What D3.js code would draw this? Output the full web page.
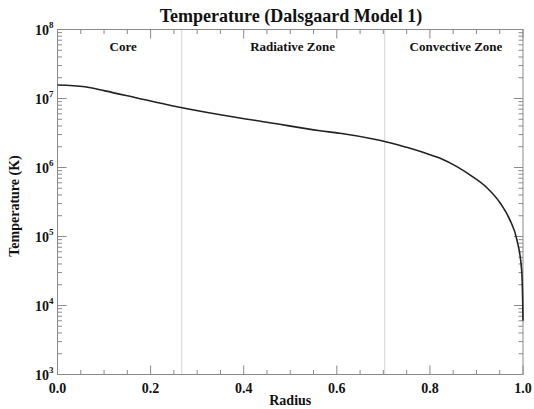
<!DOCTYPE html>
<html>
<head>
<meta charset="utf-8">
<script src="https://cdn.jsdelivr.net/npm/d3@7"></script>
<style>
  body { margin: 0; background: #fff; }
</style>
</head>
<body>
<svg width="534" height="409"></svg>
<script>
// data
var radius = [0, 0.059, 0.102, 0.173, 0.246, 0.353, 0.456, 0.564, 0.607, 0.678, 0.714,
              0.750, 0.785, 0.822, 0.858, 0.886, 0.923, 0.951, 0.972, 0.987, 0.997, 0.9993, 1.0];
var temperature = [1.57e7, 1.48e7, 1.29e7, 1.01e7, 7.87e6, 5.77e6, 4.46e6, 3.41e6, 3.13e6, 2.59e6, 2.29e6,
                   1.96e6, 1.66e6, 1.36e6, 1.03e6, 7.8e5, 5.05e5, 3.06e5, 1.73e5, 8.9e4, 3.3e4, 1.2e4, 6.0e3];
var zoneBounds = [0.267, 0.703];
var zoneNames = ["Core", "Radiative Zone", "Convective Zone"];
var zoneLabelX = [0.141, 0.505, 0.856];
var xTicks = [0, 0.2, 0.4, 0.6, 0.8, 1.0];
var yExps = [3, 4, 5, 6, 7, 8];

var svg = d3.select("svg"),
    margin = {top: 29.5, right: 11, bottom: 34.5, left: 57.5},
    width = +svg.attr("width") - margin.left - margin.right,
    height = +svg.attr("height") - margin.top - margin.bottom;

svg.attr("font-family", "'Liberation Serif', 'Times New Roman', Times, serif")
   .attr("font-weight", "bold")
   .attr("fill", "#111");

var x = d3.scaleLinear().domain([0, 1]).range([0, width]);
var y = d3.scaleLog().domain([1e3, 1e8]).range([height, 0]);

var g = svg.append("g").attr("transform", "translate(" + margin.left + "," + margin.top + ")");

var axisColor = "#8a8a8a";

// zone boundaries
g.selectAll(".zone")
    .data(zoneBounds)
    .enter().append("line")
    .attr("x1", function(d) { return x(d); })
    .attr("x2", function(d) { return x(d); })
    .attr("y1", 0).attr("y2", height)
    .attr("stroke", "#d4d4d4").attr("stroke-width", 1);

// frame
g.append("rect")
    .attr("width", width).attr("height", height)
    .attr("fill", "none").attr("stroke", axisColor).attr("stroke-width", 1);

// x ticks (major + minor), bottom and top, pointing inward
var xMinor = d3.range(0, 1.0001, 0.05);
xMinor.forEach(function(v) {
  var major = xTicks.some(function(t) { return Math.abs(t - v) < 1e-6; });
  var len = major ? 9 : 4.5;
  g.append("line").attr("x1", x(v)).attr("x2", x(v)).attr("y1", height).attr("y2", height - len)
      .attr("stroke", axisColor);
  g.append("line").attr("x1", x(v)).attr("x2", x(v)).attr("y1", 0).attr("y2", len)
      .attr("stroke", axisColor);
});

g.selectAll(".xlab")
    .data(xTicks)
    .enter().append("text")
    .attr("x", function(d) { return x(d); })
    .attr("y", height + 18)
    .attr("text-anchor", "middle")
    .style("font-size", "14px")
    .text(function(d) { return d3.format(".1f")(d); });

// y ticks: decades and minor 2..9, left and right
yExps.forEach(function(e, i) {
  var vals = [Math.pow(10, e)];
  if (i < yExps.length - 1) {
    for (var k = 2; k < 10; k++) vals.push(k * Math.pow(10, e));
  }
  vals.forEach(function(v, j) {
    var len = j === 0 ? 9 : 4.5;
    g.append("line").attr("x1", 0).attr("x2", len).attr("y1", y(v)).attr("y2", y(v))
        .attr("stroke", axisColor);
    g.append("line").attr("x1", width).attr("x2", width - len).attr("y1", y(v)).attr("y2", y(v))
        .attr("stroke", axisColor);
  });
});

var ylab = g.selectAll(".ylab")
    .data(yExps)
    .enter().append("text")
    .attr("x", -4)
    .attr("y", function(d) { return y(Math.pow(10, d)) + 5; })
    .attr("text-anchor", "end")
    .style("font-size", "14px");
ylab.append("tspan").text("10");
ylab.append("tspan")
    .attr("dy", -7)
    .style("font-size", "9px")
    .text(function(d) { return d; });

// curve
var line = d3.line()
    .x(function(d) { return x(d[0]); })
    .y(function(d) { return y(d[1]); })
    .curve(d3.curveMonotoneX);

g.append("path")
    .datum(d3.zip(radius, temperature))
    .attr("fill", "none")
    .attr("stroke", "#222")
    .attr("stroke-width", 1.6)
    .attr("d", line);

// zone labels
g.selectAll(".zlab")
    .data(zoneNames)
    .enter().append("text")
    .attr("x", function(d, i) { return x(zoneLabelX[i]); })
    .attr("y", 21)
    .attr("text-anchor", "middle")
    .style("font-size", "13px")
    .text(function(d) { return d; });

// title and axis labels
svg.append("text")
    .attr("x", 291)
    .attr("y", 22)
    .attr("text-anchor", "middle")
    .style("font-size", "18px")
    .text("Temperature (Dalsgaard Model 1)");

svg.append("text")
    .attr("x", margin.left + width / 2)
    .attr("y", 405)
    .attr("text-anchor", "middle")
    .style("font-size", "14px")
    .text("Radius");

svg.append("text")
    .attr("transform", "translate(19," + (margin.top + height / 2 + 4) + ") rotate(-90)")
    .attr("text-anchor", "middle")
    .style("font-size", "14px")
    .text("Temperature (K)");
</script>
</body>
</html>
